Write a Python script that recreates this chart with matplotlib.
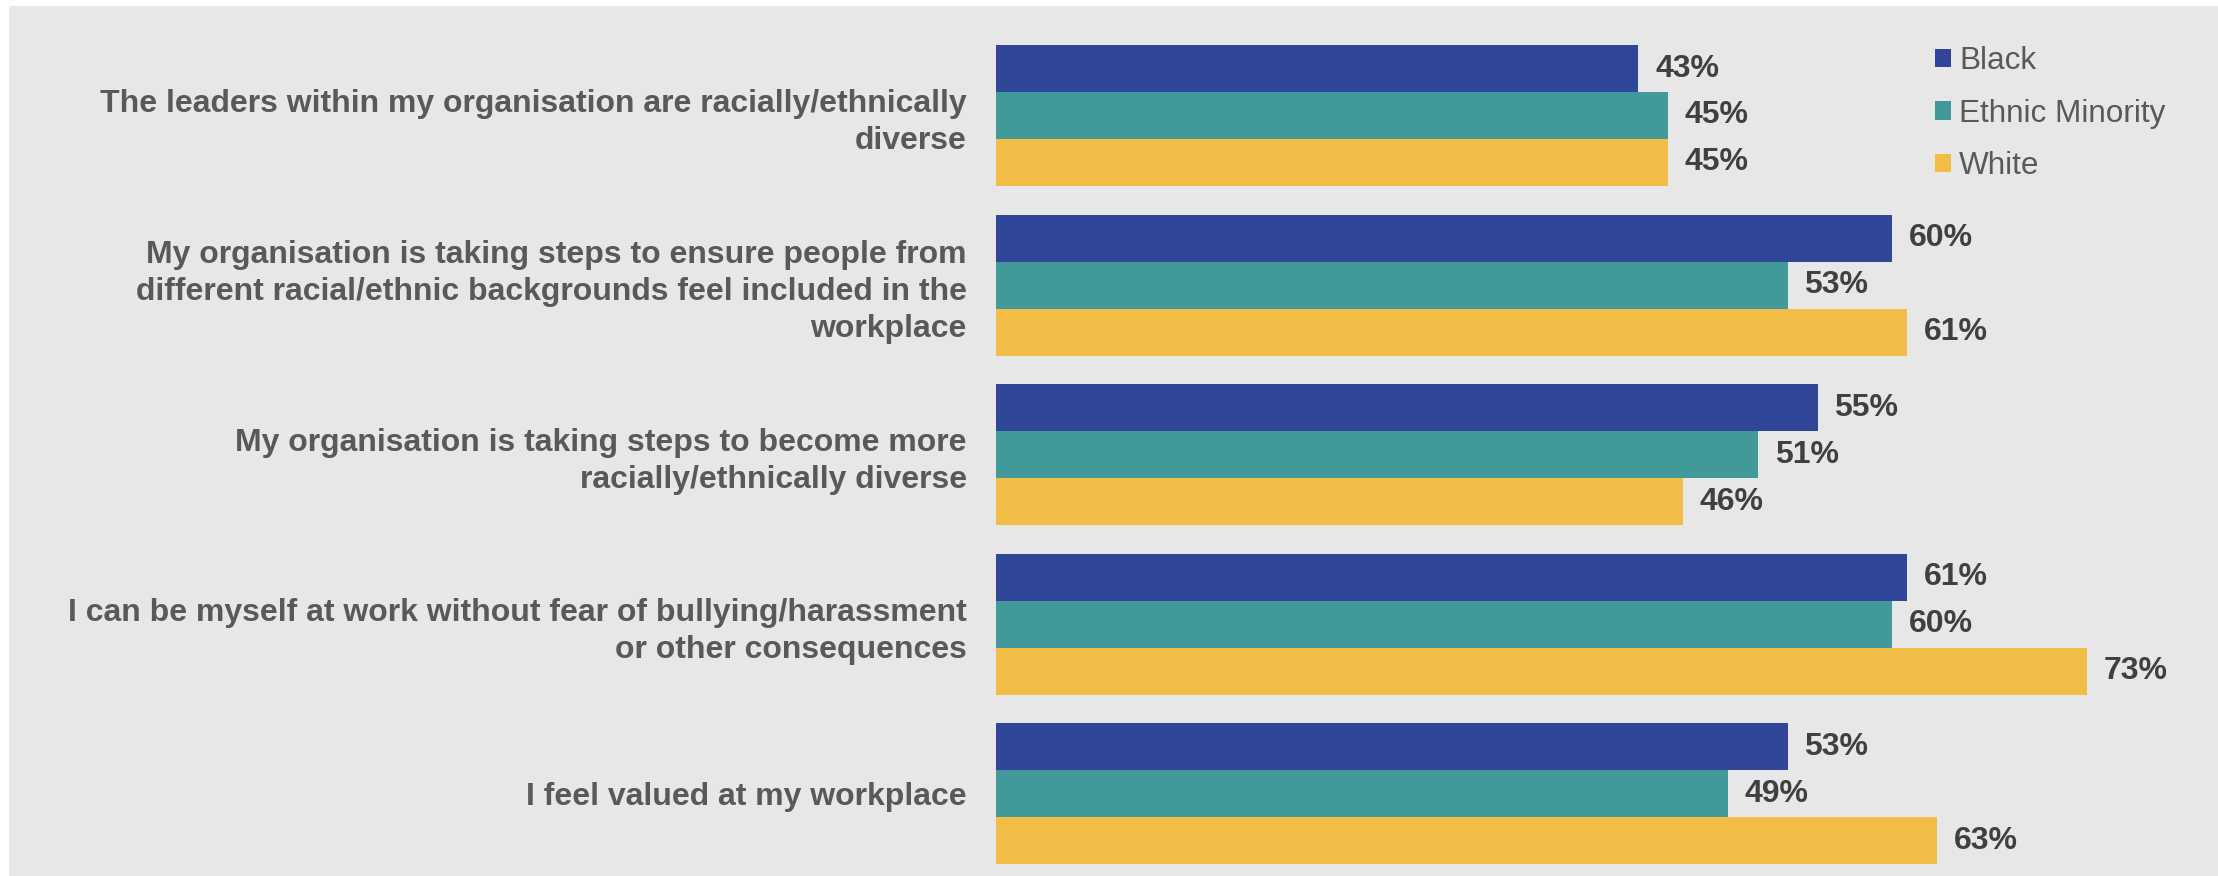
import matplotlib.pyplot as plt
from matplotlib.patches import Rectangle, Patch

# donnees
questions = [
    "The leaders within my organisation are racially/ethnically\ndiverse",
    "My organisation is taking steps to ensure people from\ndifferent racial/ethnic backgrounds feel included in the\nworkplace",
    "My organisation is taking steps to become more\nracially/ethnically diverse",
    "I can be myself at work without fear of bullying/harassment\nor other consequences",
    "I feel valued at my workplace",
]
groupes = ["Black", "Ethnic Minority", "White"]
black = [43, 60, 55, 61, 53]
ethnic_minority = [45, 53, 51, 60, 49]
white = [45, 61, 46, 73, 63]

couleurs = ["#2F4699", "#42999A", "#F2BD47"]
fond = "#E7E7E7"

plt.rcParams['font.family'] = ['Liberation Sans', 'DejaVu Sans']

fig = plt.figure(figsize=(22.18, 8.76), dpi=100)
fig.patch.set_facecolor('white')
fig.patches.append(Rectangle((9 / 2218, 0), 1, 1 - 6 / 876, transform=fig.transFigure,
                             facecolor=fond, edgecolor='none', zorder=-10))

ax = fig.add_axes([996 / 2218, 0, 1 - 996 / 2218, 1])
ax.set_facecolor('none')

h = 0.277
series = [black, ethnic_minority, white]
for k, (vals, col) in enumerate(zip(series, couleurs)):
    pos = [i + (k - 1) * h for i in range(len(questions))]
    bars = ax.barh(pos, vals, height=h, color=col, label=groupes[k])
    for b, v in zip(bars, vals):
        ax.annotate(f"{v}%", (b.get_width(), b.get_y() + b.get_height() / 2),
                    xytext=(12, 0), textcoords='offset points', ha='left', va='center',
                    fontsize=23, fontweight='bold', color='#404040')

ax.set_xlim(0, 81.8)
ax.set_ylim(4.484, -0.681)
ax.set_yticks(range(len(questions)))
ax.set_yticklabels(questions, fontsize=23, fontweight='bold', color='#595959', linespacing=1.3)
ax.tick_params(axis='y', length=0, pad=21)
ax.set_xticks([])
for s in ax.spines.values():
    s.set_visible(False)

handles = [Patch(facecolor=c, edgecolor='none') for c in couleurs]
leg = ax.legend(handles, groupes, loc='upper left', bbox_to_anchor=(1935 / 2218, 1 - 46 / 876),
                bbox_transform=fig.transFigure, frameon=False, fontsize=22.7,
                handlelength=0.51, handleheight=0.51, handletextpad=0.25, labelspacing=0.72,
                borderpad=0, borderaxespad=0)
for t in leg.get_texts():
    t.set_color('#595959')

fig.savefig('out.png', dpi=100, facecolor=fig.get_facecolor())
